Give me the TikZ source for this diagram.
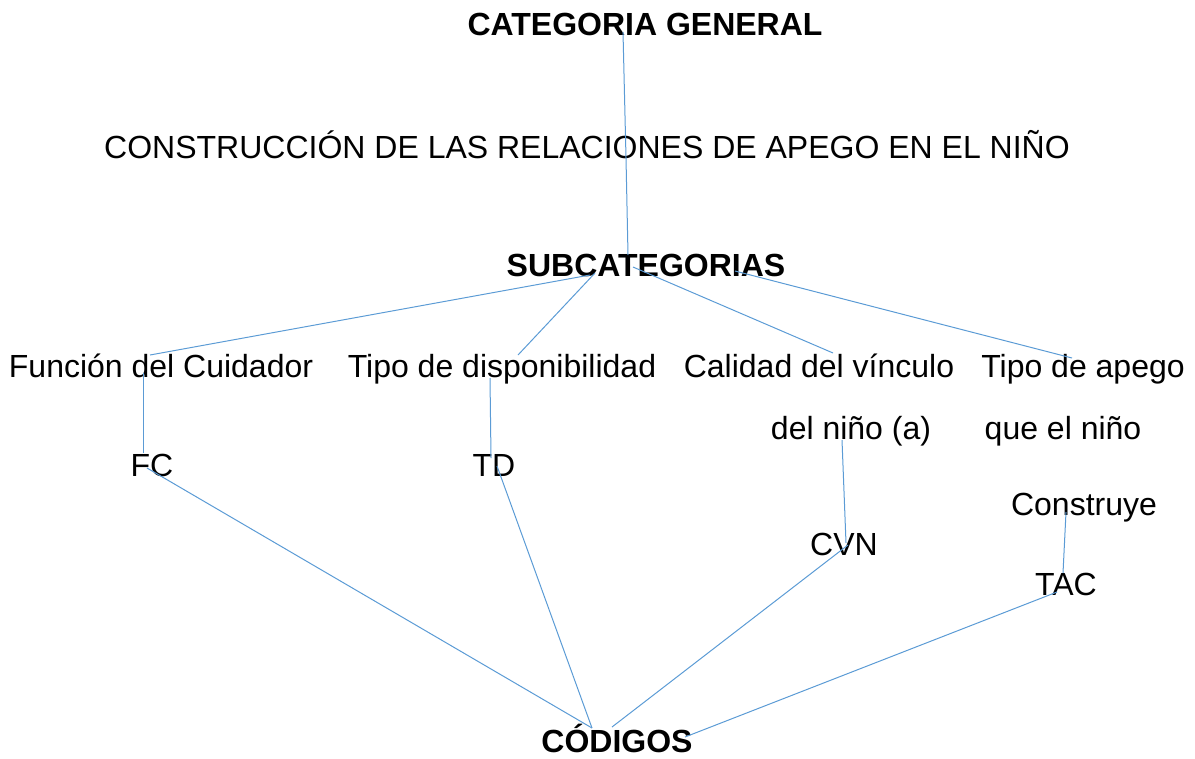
\documentclass[tikz,border=0pt]{standalone}
\usepackage{fontspec}
\setmainfont{Liberation Sans}
\definecolor{linkblue}{HTML}{5B9BD5}

\begin{document}
\begin{tikzpicture}[x=0.75pt,y=-0.75pt,
  label/.style={anchor=base,inner sep=0pt,font=\fontsize{24pt}{28pt}\selectfont},
  head/.style={label,font=\fontsize{24pt}{28pt}\selectfont\bfseries},
  link/.style={draw=linkblue,line width=0.75pt}]
\useasboundingbox (0,0) rectangle (1195,758);

% levels
\node[head]  (cat)  at (645,35)  {CATEGORIA GENERAL};
\node[label] (cons) at (587,158) {CONSTRUCCIÓN DE LAS RELACIONES DE APEGO EN EL NIÑO};
\node[head]  (sub)  at (646,276) {SUBCATEGORIAS};
\node[head]  (cod)  at (617,752) {CÓDIGOS};

% subcategories
\node[label] (fun)  at (161,377)  {Función del Cuidador};
\node[label] (tip)  at (502,377)  {Tipo de disponibilidad};
\node[label] (cal)  at (819,377)  {Calidad del vínculo};
\node[label] (cal2) at (851,439)  {del niño (a)};
\node[label] (ape)  at (1083,377) {Tipo de apego};
\node[label] (ape2) at (1063,439) {que el niño};
\node[label] (ape3) at (1084,515) {Construye};

% codes
\node[label] (fc)  at (152,476)  {FC};
\node[label] (td)  at (494,476)  {TD};
\node[label] (cvn) at (844,555)  {CVN};
\node[label] (tac) at (1066,595) {TAC};

% line ends
\coordinate (cat-b)  at (623,32);
\coordinate (cons-m) at (626,158);
\coordinate (sub-t)  at (628,255);
\coordinate (sub-a)  at (590,275);
\coordinate (sub-b)  at (595,273);
\coordinate (sub-c)  at (633,267);
\coordinate (sub-d)  at (735,271);
\coordinate (fun-t)  at (150,355);
\coordinate (fun-b)  at (143,373);
\coordinate (tip-t)  at (518,355);
\coordinate (tip-b)  at (490,378);
\coordinate (cal-t)  at (833,353);
\coordinate (cal2-b) at (842,440);
\coordinate (ape-t)  at (1072,358);
\coordinate (ape3-b) at (1066,512);
\coordinate (fc-t)   at (143,453);
\coordinate (fc-b)   at (147,468);
\coordinate (td-t)   at (491,458);
\coordinate (td-b)   at (497,466);
\coordinate (cvn-t)  at (846,543);
\coordinate (cvn-b)  at (848,545);
\coordinate (tac-t)  at (1063,573);
\coordinate (tac-b)  at (1057,592);
\coordinate (cod-a)  at (592,728);
\coordinate (cod-b)  at (612,727);
\coordinate (cod-c)  at (685,737);

% connectors
\draw[link] (cat-b) -- (cons-m) -- (sub-t);
\draw[link] (sub-a) -- (fun-t);
\draw[link] (sub-b) -- (tip-t);
\draw[link] (sub-c) -- (cal-t);
\draw[link] (sub-d) -- (ape-t);
\draw[link] (fun-b) -- (fc-t);
\draw[link] (tip-b) -- (td-t);
\draw[link] (cal2-b) -- (cvn-t);
\draw[link] (ape3-b) -- (tac-t);
\draw[link] (fc-b) -- (cod-a);
\draw[link] (td-b) -- (cod-a);
\draw[link] (cvn-b) -- (cod-b);
\draw[link] (tac-b) -- (cod-c);
\end{tikzpicture}
\end{document}
